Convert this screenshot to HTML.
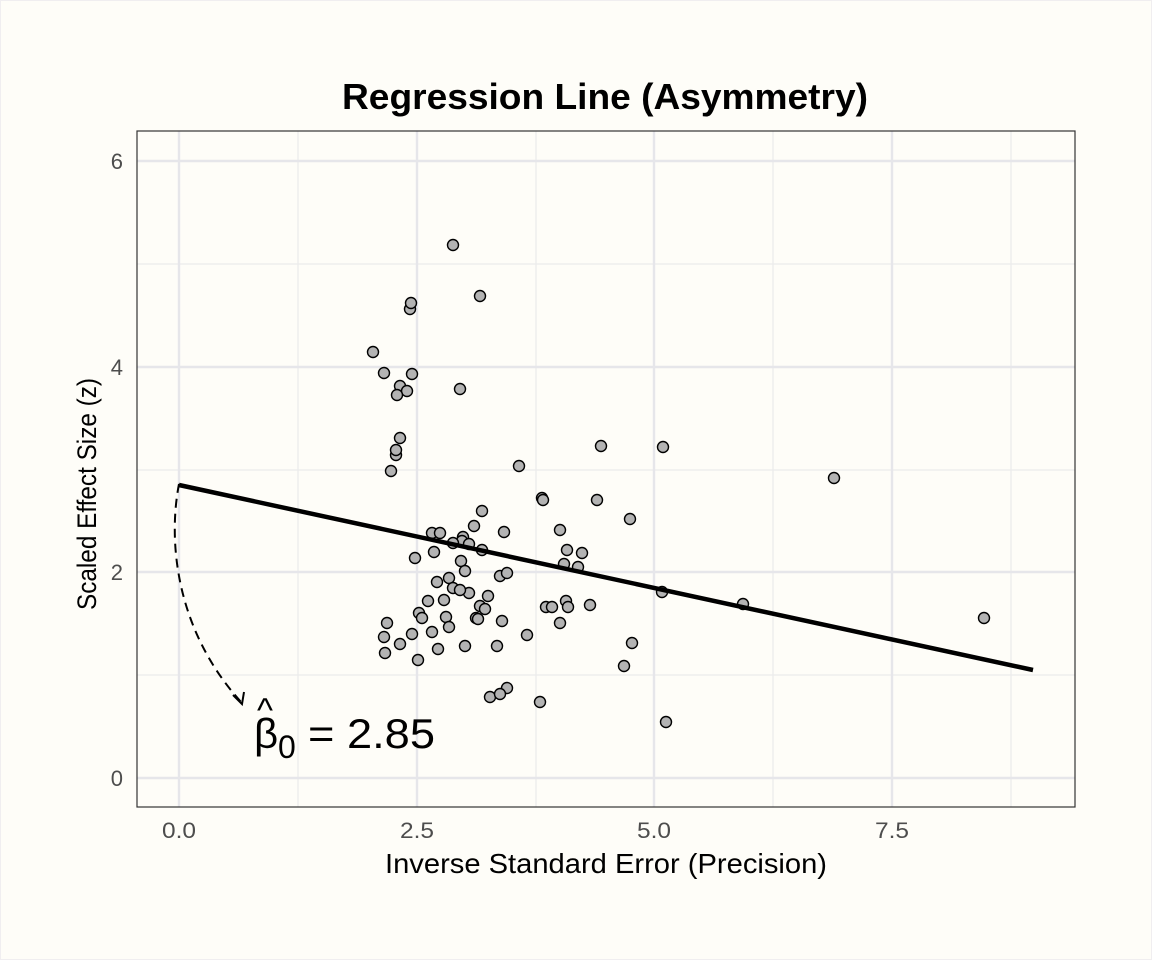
<!DOCTYPE html>
<html><head><meta charset="utf-8"><style>
html,body{margin:0;padding:0;background:#fefdf8;}
svg{display:block;font-family:"Liberation Sans",Arial,sans-serif;}
</style></head><body>
<svg width="1152" height="960" viewBox="0 0 1152 960" xmlns="http://www.w3.org/2000/svg">
<rect x="0.5" y="0.5" width="1151" height="959" fill="#fefdf8" stroke="#f0eef0"/>
<text x="342" y="109" font-size="36" font-weight="bold" textLength="526" lengthAdjust="spacingAndGlyphs">Regression Line (Asymmetry)</text>
<g stroke="#ebebeb" stroke-width="1.2">
<line x1="137" x2="1075" y1="264" y2="264"/><line x1="137" x2="1075" y1="470" y2="470"/><line x1="137" x2="1075" y1="675" y2="675"/>
<line y1="131" y2="807" x1="298" x2="298"/><line y1="131" y2="807" x1="536" x2="536"/><line y1="131" y2="807" x1="773" x2="773"/><line y1="131" y2="807" x1="1011" x2="1011"/>
</g>
<g stroke="#e6e6ea" stroke-width="2.4">
<line x1="137" x2="1075" y1="161" y2="161"/><line x1="137" x2="1075" y1="367" y2="367"/><line x1="137" x2="1075" y1="572" y2="572"/><line x1="137" x2="1075" y1="778" y2="778"/>
<line y1="131" y2="807" x1="179" x2="179"/><line y1="131" y2="807" x1="417" x2="417"/><line y1="131" y2="807" x1="654" x2="654"/><line y1="131" y2="807" x1="892" x2="892"/>
</g>
<g fill="#b3b3b3" stroke="#000" stroke-width="1.4">
<circle cx="453" cy="245" r="5.5"/><circle cx="480" cy="296" r="5.5"/><circle cx="410" cy="309" r="5.5"/><circle cx="411" cy="303" r="5.5"/><circle cx="373" cy="352" r="5.5"/><circle cx="384" cy="373" r="5.5"/><circle cx="412" cy="374" r="5.5"/><circle cx="400" cy="386" r="5.5"/><circle cx="407" cy="391" r="5.5"/><circle cx="397" cy="395" r="5.5"/><circle cx="460" cy="389" r="5.5"/><circle cx="400" cy="438" r="5.5"/><circle cx="396" cy="455" r="5.5"/><circle cx="396" cy="450" r="5.5"/><circle cx="391" cy="471" r="5.5"/><circle cx="601" cy="446" r="5.5"/><circle cx="663" cy="447" r="5.5"/><circle cx="519" cy="466" r="5.5"/><circle cx="834" cy="478" r="5.5"/><circle cx="542" cy="498" r="5.5"/><circle cx="543" cy="500" r="5.5"/><circle cx="597" cy="500" r="5.5"/><circle cx="504" cy="532" r="5.5"/><circle cx="482" cy="511" r="5.5"/><circle cx="630" cy="519" r="5.5"/><circle cx="560" cy="530" r="5.5"/><circle cx="432" cy="533" r="5.5"/><circle cx="440" cy="533" r="5.5"/><circle cx="463" cy="537" r="5.5"/><circle cx="474" cy="526" r="5.5"/><circle cx="462" cy="541" r="5.5"/><circle cx="453" cy="543" r="5.5"/><circle cx="469" cy="544" r="5.5"/><circle cx="482" cy="550" r="5.5"/><circle cx="415" cy="558" r="5.5"/><circle cx="434" cy="552" r="5.5"/><circle cx="461" cy="561" r="5.5"/><circle cx="567" cy="550" r="5.5"/><circle cx="582" cy="553" r="5.5"/><circle cx="564" cy="564" r="5.5"/><circle cx="578" cy="567" r="5.5"/><circle cx="465" cy="571" r="5.5"/><circle cx="500" cy="576" r="5.5"/><circle cx="507" cy="573" r="5.5"/><circle cx="449" cy="578" r="5.5"/><circle cx="437" cy="582" r="5.5"/><circle cx="453" cy="588" r="5.5"/><circle cx="469" cy="593" r="5.5"/><circle cx="488" cy="596" r="5.5"/><circle cx="460" cy="590" r="5.5"/><circle cx="662" cy="592" r="5.5"/><circle cx="743" cy="604" r="5.5"/><circle cx="428" cy="601" r="5.5"/><circle cx="444" cy="600" r="5.5"/><circle cx="480" cy="606" r="5.5"/><circle cx="485" cy="609" r="5.5"/><circle cx="566" cy="601" r="5.5"/><circle cx="568" cy="607" r="5.5"/><circle cx="590" cy="605" r="5.5"/><circle cx="546" cy="607" r="5.5"/><circle cx="552" cy="607" r="5.5"/><circle cx="419" cy="613" r="5.5"/><circle cx="422" cy="618" r="5.5"/><circle cx="446" cy="617" r="5.5"/><circle cx="476" cy="618" r="5.5"/><circle cx="478" cy="619" r="5.5"/><circle cx="502" cy="621" r="5.5"/><circle cx="387" cy="623" r="5.5"/><circle cx="560" cy="623" r="5.5"/><circle cx="432" cy="632" r="5.5"/><circle cx="412" cy="634" r="5.5"/><circle cx="384" cy="637" r="5.5"/><circle cx="449" cy="627" r="5.5"/><circle cx="527" cy="635" r="5.5"/><circle cx="400" cy="644" r="5.5"/><circle cx="465" cy="646" r="5.5"/><circle cx="497" cy="646" r="5.5"/><circle cx="438" cy="649" r="5.5"/><circle cx="385" cy="653" r="5.5"/><circle cx="418" cy="660" r="5.5"/><circle cx="632" cy="643" r="5.5"/><circle cx="624" cy="666" r="5.5"/><circle cx="507" cy="688" r="5.5"/><circle cx="490" cy="697" r="5.5"/><circle cx="500" cy="694" r="5.5"/><circle cx="540" cy="702" r="5.5"/><circle cx="666" cy="722" r="5.5"/><circle cx="984" cy="618" r="5.5"/>
</g>
<line x1="179" y1="485" x2="1033" y2="670" stroke="#000" stroke-width="4.5"/>
<path d="M179,484 C168,540 175,630 242,703" fill="none" stroke="#000" stroke-width="2" stroke-dasharray="9,6"/>
<path d="M233,695 L242,704 L244,692" fill="none" stroke="#000" stroke-width="2"/>
<text x="254" y="748" font-size="42">β</text>
<text x="257" y="722" font-size="34">^</text>
<text x="278" y="758" font-size="32">0</text>
<text x="308" y="748" font-size="42" textLength="127" lengthAdjust="spacingAndGlyphs">= 2.85</text>
<rect x="137" y="131" width="938" height="676" fill="none" stroke="#333" stroke-width="1.2"/>
<g font-size="22" fill="#4d4d4d" text-anchor="end">
<text x="123" y="169">6</text><text x="123" y="375">4</text><text x="123" y="580">2</text><text x="123" y="786">0</text>
</g>
<g font-size="22" fill="#4d4d4d">
<text x="162" y="838" textLength="34" lengthAdjust="spacingAndGlyphs">0.0</text><text x="400" y="838" textLength="34" lengthAdjust="spacingAndGlyphs">2.5</text><text x="637" y="838" textLength="34" lengthAdjust="spacingAndGlyphs">5.0</text><text x="875" y="838" textLength="34" lengthAdjust="spacingAndGlyphs">7.5</text>
</g>
<text x="385" y="873" font-size="28" textLength="442" lengthAdjust="spacingAndGlyphs">Inverse Standard Error (Precision)</text>
<text transform="translate(96,610) rotate(-90)" font-size="27" textLength="232" lengthAdjust="spacingAndGlyphs">Scaled Effect Size (z)</text>
</svg>
</body></html>
